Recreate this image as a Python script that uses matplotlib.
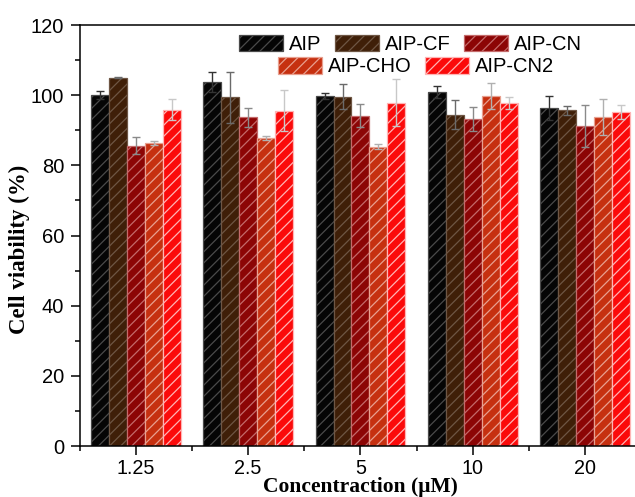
import matplotlib
matplotlib.use("Agg")
import matplotlib.pyplot as plt
from matplotlib.ticker import MultipleLocator, FixedLocator
import numpy as np

# Data: cell viability (%) at each concentration
concentrations = ["1.25", "2.5", "5", "10", "20"]
series_names = ["AIP", "AIP-CF", "AIP-CN", "AIP-CHO", "AIP-CN2"]
aip = [100.0, 103.7, 99.8, 100.9, 96.4]
aip_cf = [105.0, 99.4, 99.6, 94.5, 95.7]
aip_cn = [85.6, 93.7, 94.1, 93.2, 91.3]
aip_cho = [86.4, 87.7, 85.3, 99.8, 93.7]
aip_cn2 = [95.9, 95.6, 97.9, 97.7, 95.3]
aip_err = [1.2, 2.8, 0.9, 1.7, 3.4]
aip_cf_err = [0.2, 7.3, 3.5, 4.1, 1.3]
aip_cn_err = [2.4, 2.7, 3.3, 3.4, 6.0]
aip_cho_err = [0.6, 0.6, 0.7, 3.7, 5.1]
aip_cn2_err = [3.1, 5.8, 6.6, 1.7, 2.0]

values = [aip, aip_cf, aip_cn, aip_cho, aip_cn2]
errors = [aip_err, aip_cf_err, aip_cn_err, aip_cho_err, aip_cn2_err]

face_colors = ["#050505", "#3f1f08", "#8c0505", "#c63010", "#fb0a0a"]
hatch_colors = ["#4a4a4a", "#6e5644", "#c46a6a", "#e8a090", "#ffb4b4"]
err_colors = ["#333333", "#6a6a6a", "#8a8a8a", "#b0b0b0", "#c8c8c8"]

plt.rcParams["hatch.linewidth"] = 0.9
sans = ["Liberation Sans", "DejaVu Sans"]
serif = ["Liberation Serif", "DejaVu Serif"]

fig = plt.figure(figsize=(6.35, 4.97), dpi=100)
ax = fig.add_axes([0.1252, 0.1026, 0.885, 0.847])

x = np.arange(len(concentrations))
width = 0.16
handles = []
for i, (vals, errs) in enumerate(zip(values, errors)):
    pos = x + (i - 2) * width
    bars = ax.bar(pos, vals, width, color=face_colors[i], edgecolor=hatch_colors[i],
                  hatch="///", linewidth=0.9, label=series_names[i], zorder=2)
    ax.errorbar(pos, vals, yerr=errs, fmt="none", ecolor=err_colors[i],
                elinewidth=1.0, capsize=3.2, capthick=1.0, zorder=3)
    handles.append(bars)

ax.set_xlim(-0.5, 4.5)
ax.set_ylim(0, 120)
ax.set_xticks(x)
ax.set_xticklabels(concentrations, family=sans, fontsize=14.2)
ax.xaxis.set_minor_locator(FixedLocator(np.arange(-0.5, 5.0, 1.0)))
ax.yaxis.set_major_locator(MultipleLocator(20))
ax.yaxis.set_minor_locator(MultipleLocator(10))
for lbl in ax.get_yticklabels():
    lbl.set_family(sans)
    lbl.set_fontsize(14.5)

ax.tick_params(axis="both", which="major", direction="out", length=6.5, width=1.1,
               pad=2.5)
ax.tick_params(axis="both", which="minor", direction="out", length=3.5, width=1.1)
ax.tick_params(axis="y", which="major", pad=4.5)
for side in ["left", "bottom", "top", "right"]:
    ax.spines[side].set_linewidth(1.1)

ax.set_ylabel("Cell viability (%)", family=serif, fontweight="bold", fontsize=16.5)
ax.set_xlabel("Concentraction (\u03bcM)", family=serif, fontweight="bold", fontsize=15.5)
ax.yaxis.set_label_coords(-0.088, 0.466)
ax.xaxis.set_label_coords(0.5, -0.074)

leg_kw = dict(frameon=False, borderpad=0, borderaxespad=0, handlelength=2.19,
              handleheight=0.87, handletextpad=0.3, columnspacing=0.65,
              prop={"family": sans, "size": 14.5}, loc="center left",
              bbox_transform=fig.transFigure)
leg1 = ax.legend(handles[:3], series_names[:3], ncol=3,
                 bbox_to_anchor=(239 / 635, 1 - 44.2 / 497), **leg_kw)
ax.add_artist(leg1)
ax.legend(handles[3:], series_names[3:], ncol=2,
          bbox_to_anchor=(277.7 / 635, 1 - 66.9 / 497), **leg_kw)

fig.savefig("out.png", dpi=100)
